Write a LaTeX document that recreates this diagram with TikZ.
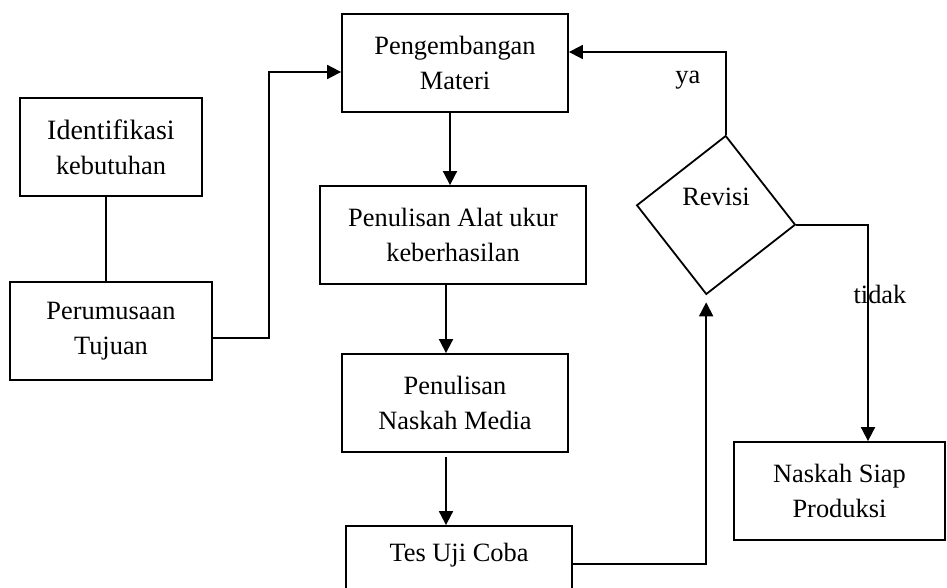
\documentclass[tikz,border=0pt]{standalone}
\usepackage{fontspec}
\setmainfont{Liberation Serif}
\usetikzlibrary{shapes.geometric,arrows.meta}

\tikzset{
  box/.style={draw, line width=0.9pt, align=center, inner sep=0pt, minimum height=49pt},
  conn/.style={line width=0.9pt},
  arr/.style={conn, -{Triangle[length=7pt,width=7pt]}},
}

\begin{document}
\begin{tikzpicture}[x=0.5pt,y=-0.5pt,font=\fontsize{13.2}{17.5}\selectfont]
\useasboundingbox (0,0) rectangle (947,588);
% boxes
\node[box, minimum width=91pt] (ident) at (111,147) {{\fontsize{14}{17.5}\selectfont Identifikasi}\\kebutuhan};
\node[box, minimum width=101pt] (rumus) at (111,331) {Perumusaan\\Tujuan};
\node[box, minimum width=113pt] (materi) at (455,63) {Pengembangan\\Materi};
\node[box, minimum width=133pt] (alat) at (453,235) {Penulisan Alat ukur\\keberhasilan};
\node[box, minimum width=113pt] (naskah) at (455,403) {Penulisan\\Naskah Media};
\node[box, minimum width=113pt] (tes) at (459,575) {Tes Uji Coba\\\strut};
\node[box, minimum width=105.5pt] (siap) at (839.5,491) {Naskah Siap\\Produksi};
% decision
\node[diamond, draw, line width=0.9pt, minimum width=80pt, minimum height=80pt, inner sep=0pt, rotate=-7] (revisi) at (716,215) {};
\node (revisiText) at (716,197) {Revisi};
% connectors
\draw[conn] ([xshift=-2.5pt]ident.south) -- ([xshift=-2.5pt]ident.south |- rumus.north);
\draw[arr] ([yshift=-3.5pt]rumus.east) -- ++(56,0) |- ([yshift=-4.5pt]materi.west);
\draw[arr] ([xshift=-2.5pt]materi.south) -- ([xshift=-2.5pt]materi.south |- alat.north);
\draw[arr] ([xshift=-3.5pt]alat.south) -- ([xshift=-3.5pt]alat.south |- naskah.north);
\draw[arr] ([xshift=-4.5pt,yshift=-2pt]naskah.south) -- ([xshift=-4.5pt]naskah.south |- tes.north);
\draw[arr] ([yshift=5.5pt]tes.east) -| ([yshift=-3.5pt]revisi.south);
\draw[arr] (revisi.north) |- node[pos=0.33, left, xshift=-9pt] {ya} ([yshift=5.5pt]materi.east);
\draw[arr] (revisi.east) -| node[pos=0.66, xshift=6pt] {tidak} ([xshift=14.25pt]siap.north);
\end{tikzpicture}
\end{document}
